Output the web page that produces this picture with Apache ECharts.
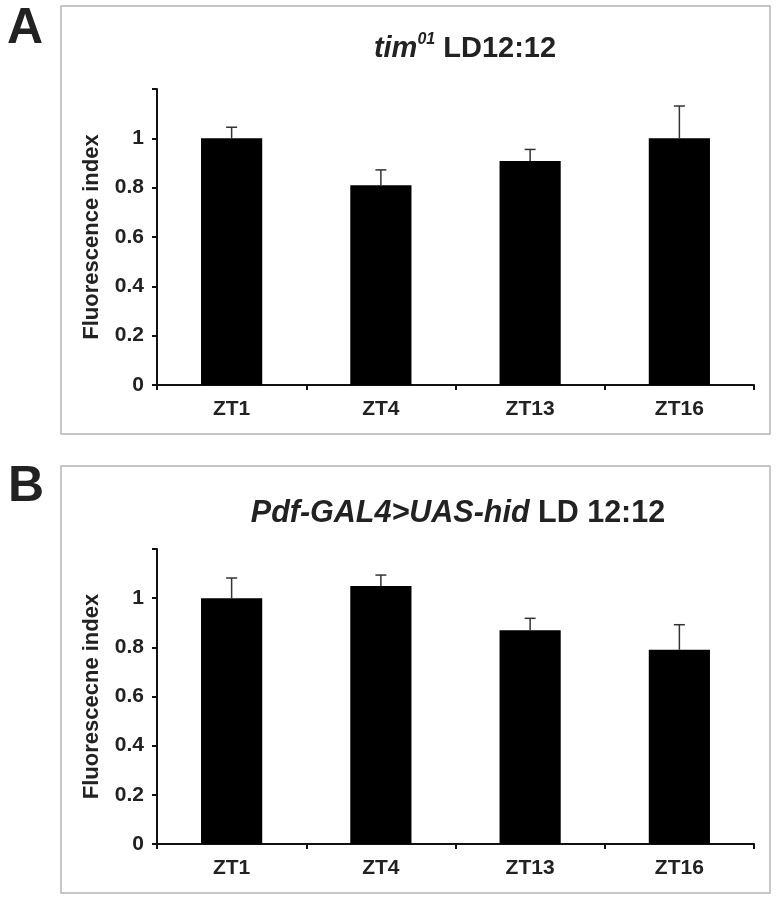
<!DOCTYPE html>
<html>
<head>
<meta charset="utf-8">
<script src="https://cdn.jsdelivr.net/npm/echarts@6/dist/echarts.min.js"></script>
<style>
html,body{margin:0;padding:0;background:#fff;}
#chart{width:782px;height:902px;}
</style>
</head>
<body>
<div id="chart"></div>
<script>
var categories = ['ZT1', 'ZT4', 'ZT13', 'ZT16'];
var yTicks = [0, 0.2, 0.4, 0.6, 0.8, 1, 1.2];
var meanA = [1.0, 0.81, 0.908, 1.0];
var errA = [0.045, 0.062, 0.047, 0.131];
var meanB = [1.0, 1.05, 0.869, 0.79];
var errB = [0.082, 0.044, 0.049, 0.102];

var FONT = '"Liberation Sans", Arial, sans-serif';
var TXT = '#222';

function errData(m, e) {
  return m.map(function (v, i) { return [i, v, v + e[i]]; });
}
function errRender(params, api) {
  var i = api.value(0);
  var lo = api.coord([i, api.value(1)]);
  var hi = api.coord([i, api.value(2)]);
  var cap = 5.5;
  var st = { stroke: '#333', lineWidth: 1.5 };
  return {
    type: 'group',
    children: [
      { type: 'line', shape: { x1: lo[0], y1: lo[1], x2: hi[0], y2: hi[1] }, style: st },
      { type: 'line', shape: { x1: hi[0] - cap, y1: hi[1], x2: hi[0] + cap, y2: hi[1] }, style: st }
    ]
  };
}
function yAxis(idx, name) {
  return {
    type: 'value', gridIndex: idx, min: 0, max: 1.2, interval: 0.2,
    name: name, nameLocation: 'middle', nameGap: 54, nameRotate: 90,
    nameTextStyle: { fontFamily: FONT, fontWeight: 'bold', fontSize: 22, color: TXT },
    axisLine: { show: true, lineStyle: { color: '#111', width: 2 } },
    axisTick: { show: true, length: 5, lineStyle: { color: '#111', width: 2 } },
    splitLine: { show: false },
    axisLabel: {
      fontFamily: FONT, fontWeight: 'bold', fontSize: 21, color: TXT, margin: 13,
      formatter: function (v) { return Math.abs(v - 1.2) < 1e-6 ? '' : String(Math.round(v * 10) / 10); }
    }
  };
}
function xAxis(idx) {
  return {
    type: 'category', gridIndex: idx, data: categories, boundaryGap: true,
    axisLine: { show: true, lineStyle: { color: '#111', width: 2 } },
    axisTick: { show: true, length: 5, alignWithLabel: false, lineStyle: { color: '#111', width: 2 } },
    axisLabel: { fontFamily: FONT, fontWeight: 'bold', fontSize: 21, color: TXT, margin: 14 }
  };
}

var chart = echarts.init(document.getElementById('chart'));
chart.setOption({
  backgroundColor: '#fff',
  animation: false,
  title: [
    {
      left: 460, top: 27, textAlign: 'center',
      text: '{it|tim}{sup|01}{n| LD12:12}',
      textStyle: {
        rich: {
          it: { fontFamily: FONT, fontStyle: 'italic', fontWeight: 'bold', fontSize: 29, color: TXT, lineHeight: 34 },
          sup: { fontFamily: FONT, fontStyle: 'italic', fontWeight: 'bold', fontSize: 16, color: TXT, verticalAlign: 'top', lineHeight: 34, padding: [0, 0, 14, 0] },
          n: { fontFamily: FONT, fontWeight: 'bold', fontSize: 29, color: TXT, lineHeight: 34 }
        }
      }
    },
    {
      left: 453, top: 492, textAlign: 'center',
      text: '{it|Pdf-GAL4>UAS-hid}{n| LD 12:12}',
      textStyle: {
        rich: {
          it: { fontFamily: FONT, fontStyle: 'italic', fontWeight: 'bold', fontSize: 30.5, color: TXT, lineHeight: 34 },
          n: { fontFamily: FONT, fontWeight: 'bold', fontSize: 30.5, color: TXT, lineHeight: 34 }
        }
      }
    }
  ],
  graphic: [
    { type: 'rect', shape: { x: 61, y: 6, width: 709, height: 428 }, style: { fill: 'none', stroke: '#b5b5b5', lineWidth: 1.5 }, z: -1 },
    { type: 'rect', shape: { x: 61, y: 466, width: 709, height: 427 }, style: { fill: 'none', stroke: '#b5b5b5', lineWidth: 1.5 }, z: -1 },
    { type: 'text', left: 7, top: 4, style: { text: 'A', fontFamily: FONT, fontWeight: 'bold', fontSize: 50, fill: '#222' } },
    { type: 'text', left: 8, top: 462, style: { text: 'B', fontFamily: FONT, fontWeight: 'bold', fontSize: 50, fill: '#222' } }
  ],
  grid: [
    { left: 157, top: 89, width: 597, height: 296 },
    { left: 157, top: 549, width: 597, height: 295 }
  ],
  xAxis: [xAxis(0), xAxis(1)],
  yAxis: [yAxis(0, 'Fluorescence index'), yAxis(1, 'Fluorescecne index')],
  series: [
    { type: 'bar', xAxisIndex: 0, yAxisIndex: 0, data: meanA, barWidth: '41%', itemStyle: { color: '#000' } },
    { type: 'custom', xAxisIndex: 0, yAxisIndex: 0, data: errData(meanA, errA), renderItem: errRender, z: 3 },
    { type: 'bar', xAxisIndex: 1, yAxisIndex: 1, data: meanB, barWidth: '41%', itemStyle: { color: '#000' } },
    { type: 'custom', xAxisIndex: 1, yAxisIndex: 1, data: errData(meanB, errB), renderItem: errRender, z: 3 }
  ]
});
</script>
</body>
</html>
